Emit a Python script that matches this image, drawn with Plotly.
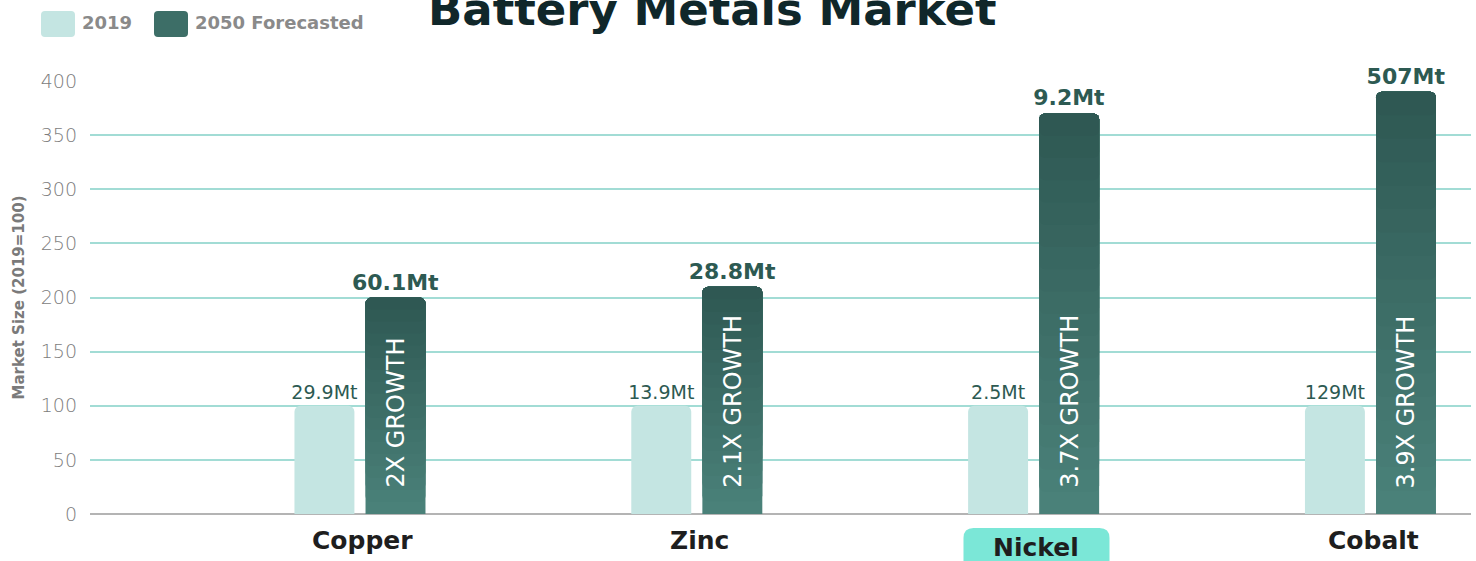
import plotly.graph_objects as go

# ---- data ----
metals = ["Copper", "Zinc", "Nickel", "Cobalt"]
index_2019 = [100, 100, 100, 100]
index_2050 = [200, 210, 370, 390]
labels_2019 = ["29.9Mt", "13.9Mt", "2.5Mt", "129Mt"]
labels_2050 = ["60.1Mt", "28.8Mt", "9.2Mt", "507Mt"]
growth_labels = ["2X GROWTH", "2.1X GROWTH", "3.7X GROWTH", "3.9X GROWTH"]
highlight_metal = "Nickel"
y_tick_values = [0, 50, 100, 150, 200, 250, 300, 350, 400]
series_names = ["2019", "2050 Forecasted"]

FONT = "'DejaVu Sans', sans-serif"
LIGHT = "#c4e5e2"
DARK_TOP = (45, 86, 81)
DARK_BOT = (74, 129, 121)
LABEL_COL = "#2d5a52"
GRID_COL = "#a2dcd5"

W, H = 1476, 561
ML, MR, MT, MB = 90, 5, 81, 47
PW = W - ML - MR
PH = H - MT - MB
X_RANGE = [-0.8, 3.3]


def px_x(px):
    return (px - ML) / PW


def px_y(py):
    return (H - MB - py) / PH


def mix(t):
    c = [round(DARK_BOT[j] + (DARK_TOP[j] - DARK_BOT[j]) * t) for j in range(3)]
    return f"rgb({c[0]},{c[1]},{c[2]})"


xpos = list(range(len(metals)))
BW = 0.178
OFF1 = -0.193
OFF2 = 0.018
N_STEPS = 18

fig = go.Figure()
fig.add_trace(go.Bar(
    x=xpos, y=index_2019, name=series_names[0], width=BW, offset=OFF1,
    marker=dict(color=LIGHT, line=dict(width=0)),
    text=labels_2019, textposition="outside", cliponaxis=False, constraintext="none",
    textfont=dict(family=FONT, size=19, color=LABEL_COL),
    showlegend=False,
))
fig.add_trace(go.Bar(
    x=xpos, y=index_2050, name=series_names[1], width=BW, offset=OFF2,
    marker=dict(color=mix(0.0), line=dict(width=0)),
    text=labels_2050, textposition="outside", cliponaxis=False, constraintext="none",
    textfont=dict(family=FONT, size=22, color=LABEL_COL, weight="bold"),
    showlegend=False,
))
# vertical colour gradient on the 2050 bars (stacked overlays sharing the bar top)
for k in range(1, N_STEPS):
    f = k / N_STEPS
    fig.add_trace(go.Bar(
        x=xpos, y=[v * (1 - f) for v in index_2050], base=[v * f for v in index_2050],
        width=BW, offset=OFF2, marker=dict(color=mix(f), line=dict(width=0)),
        hoverinfo="skip", showlegend=False, cliponaxis=False,
    ))

annotations = []
shapes = []
for i, g in enumerate(growth_labels):
    annotations.append(dict(
        x=xpos[i] + OFF2 + BW / 2, y=0, xref="x", yref="y",
        text=g, showarrow=False, textangle=-90,
        xanchor="center", yanchor="bottom", yshift=24,
        font=dict(family=FONT, size=24, color="white"),
    ))

units_per_px = (X_RANGE[1] - X_RANGE[0]) / PW
for i, m in enumerate(metals):
    is_hl = (m == highlight_metal)
    cx = xpos[i] + 0.01
    yl = px_y(547 if is_hl else 540)
    if is_hl:
        hw = 73 * units_per_px
        rx = 10 * units_per_px
        ry = 10 / PH
        yt = px_y(528)
        yb = px_y(580)
        x0, x1 = cx - hw, cx + hw
        path = (f"M{x0},{yb} L{x0},{yt - ry} Q{x0},{yt} {x0 + rx},{yt} "
                f"L{x1 - rx},{yt} Q{x1},{yt} {x1},{yt - ry} L{x1},{yb} Z")
        shapes.append(dict(type="path", path=path, xref="x", yref="paper",
                           fillcolor="#7be7d7", line=dict(width=0), layer="below"))
    annotations.append(dict(
        x=cx, y=yl, xref="x", yref="paper", text=f"<b>{m}</b>",
        showarrow=False, xanchor="center", yanchor="middle",
        font=dict(family=FONT, size=25, color="#1e1e1e"),
    ))


def rrect(x0, y0, x1, y1, r):
    X = lambda p: px_x(p)
    Y = lambda p: px_y(p)
    return (f"M{X(x0 + r)},{Y(y0)} L{X(x1 - r)},{Y(y0)} Q{X(x1)},{Y(y0)} {X(x1)},{Y(y0 + r)} "
            f"L{X(x1)},{Y(y1 - r)} Q{X(x1)},{Y(y1)} {X(x1 - r)},{Y(y1)} "
            f"L{X(x0 + r)},{Y(y1)} Q{X(x0)},{Y(y1)} {X(x0)},{Y(y1 - r)} "
            f"L{X(x0)},{Y(y0 + r)} Q{X(x0)},{Y(y0)} {X(x0 + r)},{Y(y0)} Z")


legend_items = [(series_names[0], LIGHT, 41, 80), (series_names[1], mix(0.45), 154, 193)]
for name, col, sx, tx in legend_items:
    shapes.append(dict(type="path", xref="paper", yref="paper",
                       path=rrect(sx, 11, sx + 34, 37, 4),
                       fillcolor=col, line=dict(width=0)))
    annotations.append(dict(
        x=px_x(tx), y=px_y(23), xref="paper", yref="paper", text=f"<b>{name}</b>",
        showarrow=False, xanchor="left", yanchor="middle",
        font=dict(family=FONT, size=18, color="#8a8a8a"),
    ))

annotations.append(dict(
    x=px_x(712), y=px_y(10), xref="paper", yref="paper",
    text="<b>Battery Metals Market</b>", showarrow=False,
    xanchor="center", yanchor="middle",
    font=dict(family=FONT, size=45, color="#10272a"),
))

fig.update_layout(
    width=W, height=H,
    margin=dict(l=ML, r=MR, t=MT, b=MB),
    plot_bgcolor="white", paper_bgcolor="white",
    barmode="overlay", barcornerradius=6,
    shapes=shapes, annotations=annotations,
    showlegend=False,
)
fig.update_xaxes(range=X_RANGE, showticklabels=False, showgrid=False,
                 zeroline=False, showline=False, ticks="")
fig.update_yaxes(range=[0, 400], tickvals=y_tick_values,
                 showgrid=True, gridcolor=GRID_COL, gridwidth=1.6,
                 zeroline=True, zerolinecolor="#b4b4b4", zerolinewidth=2,
                 tickfont=dict(family=FONT, size=19, color="#7c7c7c", weight=200),
                 ticklabelstandoff=12,
                 title=dict(text="<b>Market Size (2019=100)</b>",
                            font=dict(family=FONT, size=15, color="#7a7a7a"),
                            standoff=12))

fig.write_html("out.html", config={"displayModeBar": False},
               post_script="document.body.style.margin='0px';")
